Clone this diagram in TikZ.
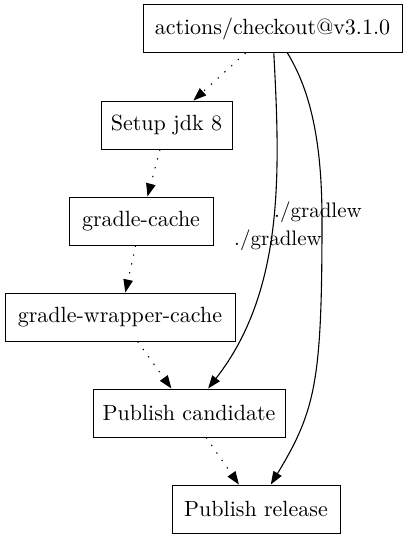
\documentclass[tikz,border=0pt]{standalone}
\usepackage{fontspec}
\setmainfont{lmroman10-regular}[Extension=.otf]
\usetikzlibrary{arrows.meta}
\begin{document}
\begin{tikzpicture}[x=1pt,y=-1pt,
  box/.style={draw,line width=1pt,rectangle,minimum height=48pt,inner sep=0pt,font=\fontsize{22}{26}\selectfont},
  edge/.style={line width=1.1pt,-{Triangle[length=13pt,width=9.5pt]}},
  dotedge/.style={edge,dash pattern=on 1.3pt off 7.8pt},
  lbl/.style={font=\fontsize{21}{25}\selectfont,inner sep=0pt}]
\useasboundingbox (0,0) rectangle (407,539);
\node[box,minimum width=259pt] (co) at (272.5,28.5) {actions/checkout@v3.1.0};
\node[box,minimum width=131pt] (su) at (166.5,125) {Setup jdk 8};
\node[box,minimum width=144pt] (gc) at (141,221) {gradle-cache};
\node[box,minimum width=230pt] (gw) at (120,317) {gradle-wrapper-cache};
\node[box,minimum width=192pt] (pc) at (189,413) {Publish candidate};
\node[box,minimum width=168pt] (pr) at (256,509) {Publish release};
\draw[dotedge] (co) -- (su);
\draw[dotedge] (su) -- (gc);
\draw[dotedge] (gc) -- (gw);
\draw[dotedge] (gw) -- (pc);
\draw[dotedge] (pc) -- (pr);
\draw[edge] (co) .. controls (280,170) and (285,290) .. (pc);
\draw[edge] (co) .. controls (310,90) and (322,140) .. (322,220) .. controls (322,380) and (316,410) .. (pr);
\node[lbl] (l1) at (318,212) {./gradlew};
\node[lbl] (l2) at (278,240) {./gradlew};
\end{tikzpicture}
\end{document}
